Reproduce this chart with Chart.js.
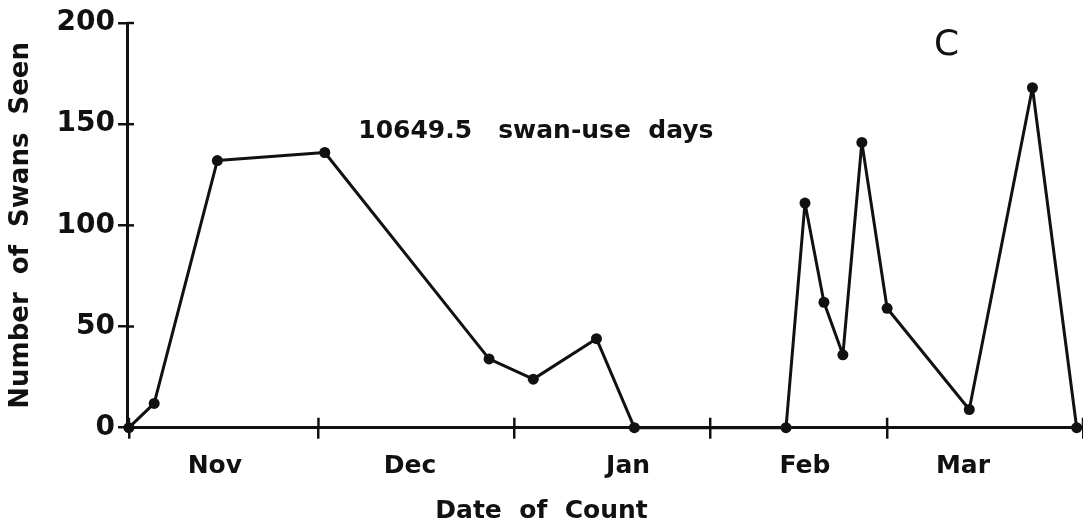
<!DOCTYPE html>
<html><head><meta charset="utf-8">
<script src="https://cdn.jsdelivr.net/npm/chart.js@4.4.0/dist/chart.umd.min.js"></script>
<style>html,body{margin:0;padding:0;background:#fff}canvas{display:block}</style>
</head><body>
<canvas id="c" width="1083" height="527"></canvas>
<script>
// Days after 1 November of each count
const dayOfSeason = [0, 4, 14, 31, 57, 64, 74, 80, 104, 107, 110, 113, 116, 120, 133, 143, 150];
// Number of swans seen at each count
const swansSeen = [0, 12, 132, 136, 34, 24, 44, 0, 0, 111, 62, 36, 141, 59, 9, 168, 0];
// Month boundaries (1 Nov, 1 Dec, 1 Jan, 1 Feb, 1 Mar, 1 Apr) in days after 1 Nov
const monthBoundaryDays = [0, 30, 61, 92, 120, 151];
const monthLabels = ['Nov', 'Dec', 'Jan', 'Feb', 'Mar'];
const monthLabelDays = [13.6, 44.5, 79, 107, 132];
const yTickValues = [0, 50, 100, 150, 200];
const noteText = '10649.5   swan-use  days';
const noteAt = {x: 36.3, y: 146.6};
const panelLetter = 'C';
const panelAt = {x: 129.4, y: 188.6};

const FONT = "'DejaVu Sans', sans-serif";
const points = dayOfSeason.map((d, i) => ({x: d, y: swansSeen[i]}));
const xTickValues = [...monthBoundaryDays, ...monthLabelDays].sort((a, b) => a - b);
const isBoundary = v => monthBoundaryDays.includes(v);

const fullWidthX = {
  id: 'fullWidthX',
  afterLayout(chart) {
    const x = chart.scales.x;
    x.right = chart.width;
    x.width = x.right - x.left;
    chart.chartArea.right = chart.width;
    chart.chartArea.width = chart.chartArea.right - chart.chartArea.left;
    x.configure();
  }
};

const extras = {
  id: 'extras',
  afterDatasetsDraw(chart) {
    const ctx = chart.ctx, x = chart.scales.x, y = chart.scales.y;
    ctx.save();
    ctx.strokeStyle = '#111';
    ctx.lineWidth = 2.5;
    const y0 = y.getPixelForValue(0);
    monthBoundaryDays.forEach(v => {
      const px = x.getPixelForValue(v);
      ctx.beginPath(); ctx.moveTo(px, y0); ctx.lineTo(px, y0 - 10); ctx.stroke();
    });
    const x0 = x.left;
    yTickValues.forEach(v => {
      const py = y.getPixelForValue(v);
      ctx.beginPath(); ctx.moveTo(x0, py); ctx.lineTo(x0 + 7, py); ctx.stroke();
    });
    ctx.fillStyle = '#111';
    ctx.textBaseline = 'middle';
    ctx.textAlign = 'left';
    ctx.font = "bold 25px " + FONT;
    ctx.fillText(noteText, x.getPixelForValue(noteAt.x), y.getPixelForValue(noteAt.y));
    ctx.textAlign = 'center';
    ctx.font = "36px " + FONT;
    ctx.fillText(panelLetter, x.getPixelForValue(panelAt.x), y.getPixelForValue(panelAt.y));
    ctx.restore();
  }
};

new Chart(document.getElementById('c'), {
  type: 'line',
  data: {
    datasets: [{
      data: points,
      borderColor: '#111',
      borderWidth: 3,
      borderJoinStyle: 'round',
      borderCapStyle: 'round',
      backgroundColor: '#111',
      pointBackgroundColor: '#111',
      pointBorderWidth: 0,
      pointRadius: 5.5,
      tension: 0,
      fill: false,
      clip: false
    }]
  },
  options: {
    responsive: false,
    animation: false,
    devicePixelRatio: 1,
    layout: {padding: {top: 23, right: 0, left: 0, bottom: 0}},
    plugins: {
      legend: {display: false},
      tooltip: {enabled: false},
      title: {
        display: true,
        position: 'bottom',
        text: 'Date  of  Count',
        color: '#111',
        font: {family: FONT, size: 25, weight: 'bold'},
        padding: {top: 2, bottom: 1}
      }
    },
    scales: {
      x: {
        type: 'linear',
        min: -0.3,
        max: 151,
        afterBuildTicks: s => { s.ticks = xTickValues.map(v => ({value: v})); },
        afterFit: s => { s.height = 66.3; s.paddingLeft = 0; s.paddingRight = 0; },
        border: {display: true, color: '#111', width: 3},
        grid: {
          drawOnChartArea: false,
          drawTicks: true,
          tickLength: 11,
          lineWidth: 2.5,
          color: c => (c.tick && isBoundary(c.tick.value)) ? '#111' : 'rgba(0,0,0,0)'
        },
        ticks: {
          autoSkip: false,
          maxRotation: 0,
          padding: 13,
          color: '#111',
          font: {family: FONT, size: 25, weight: 'bold'},
          callback: v => {
            const i = monthLabelDays.indexOf(v);
            return i >= 0 ? monthLabels[i] : '';
          }
        }
      },
      y: {
        type: 'linear',
        min: 0,
        max: 200,
        afterBuildTicks: s => { s.ticks = yTickValues.map(v => ({value: v})); },
        afterFit: s => { s.width = 127; },
        border: {display: true, color: '#111', width: 3},
        grid: {drawOnChartArea: false, drawTicks: true, tickLength: 9, lineWidth: 2.5, color: '#111'},
        ticks: {
          padding: 3,
          color: '#111',
          font: {family: FONT, size: 28, weight: 'bold'}
        },
        title: {
          display: true,
          text: 'Number  of  Swans  Seen',
          color: '#111',
          font: {family: FONT, size: 26, weight: 'bold'},
          padding: {top: 6, bottom: 0}
        }
      }
    }
  },
  plugins: [fullWidthX, extras]
});
</script>
</body></html>
